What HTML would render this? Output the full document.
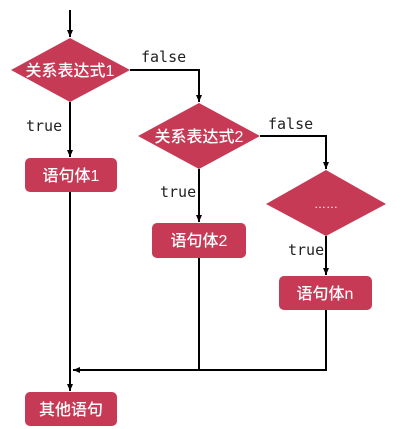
<!DOCTYPE html>
<html><head><meta charset="utf-8"><style>
html,body{margin:0;padding:0;background:#fff;}
svg{display:block;}
.cn{font-family:"Liberation Sans","Noto Sans CJK SC",sans-serif;font-size:16px;font-weight:500;fill:#fff;text-anchor:middle;}
.m{font-family:"DejaVu Sans Mono","Liberation Mono",monospace;font-size:15px;fill:#222;}
</style></head><body>
<svg width="415" height="429" viewBox="0 0 415 429" xmlns="http://www.w3.org/2000/svg">
<defs>
<marker id="a" markerWidth="8" markerHeight="8" refX="7" refY="4" orient="auto" markerUnits="userSpaceOnUse">
<path d="M0,1 L7,4 L0,7 Z" fill="#000"/></marker>
</defs>
<g stroke="#000" stroke-width="2" fill="none">
<line x1="70" y1="10" x2="70" y2="37" marker-end="url(#a)"/>
<line x1="70" y1="102" x2="70" y2="157" marker-end="url(#a)"/>
<polyline points="130,70 199,70 199,102" marker-end="url(#a)"/>
<line x1="199" y1="169" x2="199" y2="222" marker-end="url(#a)"/>
<polyline points="260,136 326,136 326,169" marker-end="url(#a)"/>
<line x1="326" y1="236" x2="326" y2="275" marker-end="url(#a)"/>
<line x1="70" y1="192" x2="70" y2="391" marker-end="url(#a)"/>
<line x1="199" y1="258" x2="199" y2="370"/>
<polyline points="326,310 326,370 73,370" marker-end="url(#a)"/>
</g>
<g fill="#c63a55">
<polygon points="70,38 130,70 70,102 11,70"/>
<polygon points="199,103 260,136 199,169 138,136"/>
<polygon points="326,170 386,204 326,236 266,204"/>
<rect x="25" y="158" width="92" height="34" rx="5"/>
<rect x="152" y="223" width="94" height="35" rx="5"/>
<rect x="279" y="276" width="93" height="34" rx="5"/>
<rect x="25" y="392" width="92" height="34" rx="5"/>
</g>
<text class="cn" x="70" y="76">关系表达式1</text>
<text class="cn" x="199" y="142">关系表达式2</text>
<text class="cn" x="326" y="208" style="font-size:12px">……</text>
<text class="cn" x="71" y="181">语句体1</text>
<text class="cn" x="199" y="246">语句体2</text>
<text class="cn" x="325" y="299">语句体n</text>
<text class="cn" x="71" y="415">其他语句</text>
<text class="m" x="141" y="62">false</text>
<text class="m" x="268" y="129">false</text>
<text class="m" x="26" y="131">true</text>
<text class="m" x="160" y="197">true</text>
<text class="m" x="288" y="255">true</text>
</svg>
</body></html>
